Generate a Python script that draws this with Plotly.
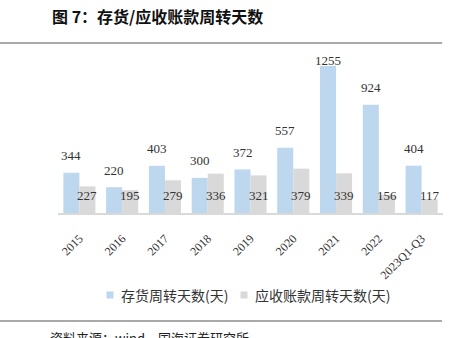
import plotly.graph_objects as go

categories = ["2015", "2016", "2017", "2018", "2019", "2020", "2021", "2022", "2023Q1-Q3"]
inventory_days = [344, 220, 403, 300, 372, 557, 1255, 924, 404]
receivable_days = [227, 195, 279, 336, 321, 379, 339, 156, 117]
series_names = ["存货周转天数(天)", "应收账款周转天数(天)"]
title_text = "图 7：存货/应收账款周转天数"
source_text = "资料来源：wind，国海证券研究所"

W, H = 454, 338
L, R, T, B = 58, 11, 50, 125
plot_h = H - T - B
ymax = 1392
px_per_unit = plot_h / ymax

blue = "#BDD7EE"
gray = "#D9D9D9"
colors = [blue, gray]
serif = "Liberation Serif, Times New Roman, serif"
cjk = "Noto Sans CJK SC"

fig = go.Figure()
fig.add_trace(go.Bar(x=categories, y=inventory_days, name=series_names[0],
                     marker_color=blue, marker_line_width=0))
fig.add_trace(go.Bar(x=categories, y=receivable_days, name=series_names[1],
                     marker_color=gray, marker_line_width=0))

annotations = []
label_cap = ymax - 92
for i, v in enumerate(inventory_days):
    ytxt = min(v + 17 / px_per_unit, label_cap)
    annotations.append(dict(x=i, y=ytxt, xref="x", yref="y", text=str(v), showarrow=False,
                            xshift=-8, yanchor="middle",
                            font=dict(family=serif, size=13, color="#333333")))
for i, v in enumerate(receivable_days):
    annotations.append(dict(x=i, y=0, xref="x", yref="y", text=str(v), showarrow=False,
                            xshift=8, yshift=18, yanchor="middle",
                            font=dict(family=serif, size=13, color="#333333")))

pw = W - L - R
def px2paper_x(px):
    return (px - L) / pw
def px2paper_y(py):
    return (H - B - py) / plot_h

annotations.append(dict(x=px2paper_x(50), y=px2paper_y(16), xref="paper", yref="paper",
                        text="<b>" + title_text + "</b>", showarrow=False,
                        xanchor="left", yanchor="middle",
                        font=dict(family=cjk, size=16, color="#111111")))
annotations.append(dict(x=px2paper_x(48), y=px2paper_y(337), xref="paper", yref="paper",
                        text=source_text, showarrow=False,
                        xanchor="left", yanchor="middle",
                        font=dict(family=cjk, size=13, color="#222222")))

shapes = [
    dict(type="line", xref="paper", yref="paper", x0=px2paper_x(0), x1=px2paper_x(442),
         y0=px2paper_y(43), y1=px2paper_y(43), line=dict(color="#555555", width=1.2)),
    dict(type="line", xref="paper", yref="paper", x0=px2paper_x(0), x1=px2paper_x(442),
         y0=px2paper_y(321), y1=px2paper_y(321), line=dict(color="#555555", width=1.2)),
]

# manual legend (squares + labels)
legend_y = 295
legend_sq_x = [110, 244]
for name, col, sx in zip(series_names, colors, legend_sq_x):
    shapes.append(dict(type="rect", xref="paper", yref="paper",
                       x0=px2paper_x(sx - 3.5), x1=px2paper_x(sx + 3.5),
                       y0=px2paper_y(legend_y - 3.5), y1=px2paper_y(legend_y + 3.5),
                       fillcolor=col, line=dict(width=0)))
    annotations.append(dict(x=px2paper_x(sx + 9), y=px2paper_y(legend_y), xref="paper", yref="paper",
                            text=name, showarrow=False, xanchor="left", yanchor="middle",
                            font=dict(family=cjk, size=14, color="#333333")))

fig.update_layout(
    width=W, height=H,
    margin=dict(l=L, r=R, t=T, b=B, pad=0),
    paper_bgcolor="white", plot_bgcolor="white",
    barmode="group", bargap=0.25, bargroupgap=0,
    showlegend=False,
    annotations=annotations,
    shapes=shapes,
    xaxis=dict(type="category", range=[-0.5, len(categories) - 0.5], autorange=False,
               showgrid=False, showline=True, linecolor=gray, linewidth=1.5,
               tickangle=-45, ticks="", ticklabelstandoff=12,
               tickfont=dict(family=serif, size=12, color="#333333")),
    yaxis=dict(range=[0, ymax], autorange=False, visible=False, showgrid=False, zeroline=False),
)

fig.write_html("out.html")
